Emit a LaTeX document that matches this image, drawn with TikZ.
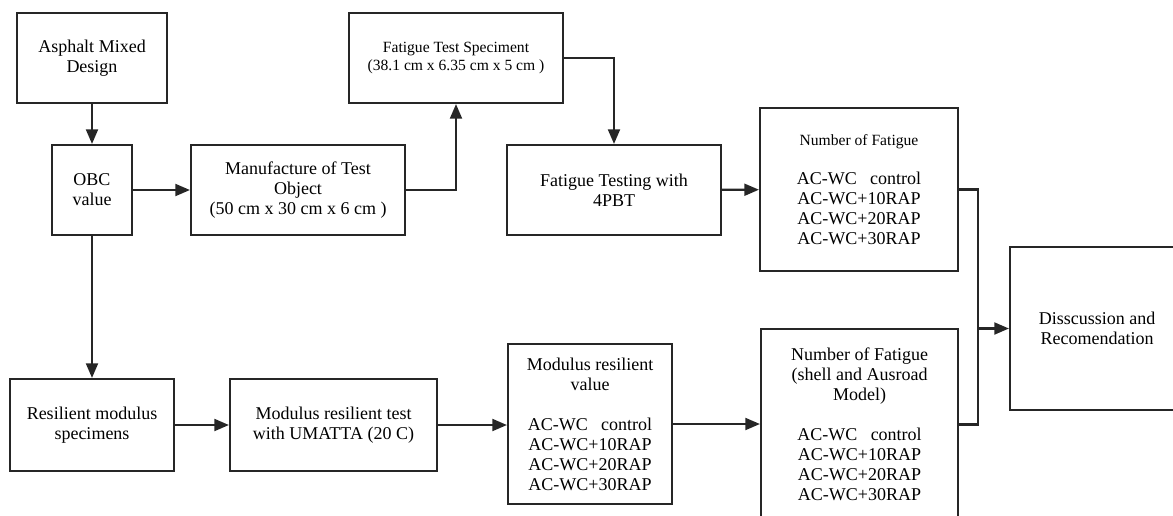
\documentclass[tikz,border=0pt]{standalone}
\usepackage{fontspec}
\setmainfont{Liberation Serif}
\usetikzlibrary{arrows.meta}
\begin{document}
\begin{tikzpicture}[x=0.75pt,y=-0.75pt,
  box/.style={draw=black!85,line width=1.6pt,inner sep=0pt,align=center,
    font=\fontsize{13.5pt}{15pt}\selectfont},
  smallbox/.style={box,font=\fontsize{11.7pt}{13pt}\selectfont},
  arr/.style={draw=black!85,line width=1.6pt,-{Triangle[length=11pt,width=9pt]}},
  ln/.style={draw=black!85,line width=1.6pt}]
\useasboundingbox (0,0) rectangle (1173,515);
\clip (0,0) rectangle (1173,515);
\node[box,minimum width=112.5pt,minimum height=67.5pt] (asphalt) at (92,58) {Asphalt Mixed\\Design};
\node[box,minimum width=60pt,minimum height=67.5pt] (obc) at (92,190) {OBC\\value};
\node[box,minimum width=160.5pt,minimum height=67.5pt] (manuf) at (298,190) {Manufacture of Test\\Object\\(50 cm x 30 cm x 6 cm )};
\node[smallbox,minimum width=160.5pt,minimum height=67.5pt] (spec) at (456,58) {Fatigue Test Speciment\\(38.1 cm x 6.35 cm x 5 cm )};
\node[box,minimum width=160.5pt,minimum height=67.5pt] (ftest) at (614,190) {Fatigue Testing with\\4PBT};
\node[box,minimum width=148.5pt,minimum height=122.25pt] (nf1) at (859,189.5) {{\fontsize{11.7pt}{13pt}\selectfont Number of Fatigue}\\[14pt]AC-WC\ \ \ control\\AC-WC+10RAP\\AC-WC+20RAP\\AC-WC+30RAP};
\node[box,minimum width=130.5pt,minimum height=122.25pt] (disc) at (1097,328.5) {Disscussion and\\Recomendation};
\node[box,minimum width=123pt,minimum height=69pt] (resil) at (92,425) {Resilient modulus\\specimens};
\node[box,minimum width=155.25pt,minimum height=69pt] (mrtest) at (333.5,425) {Modulus resilient test\\with UMATTA (20 C)};
\node[box,minimum width=123pt,minimum height=120pt] (mrval) at (590,424) {Modulus resilient\\value\\[15pt]AC-WC\ \ \ control\\AC-WC+10RAP\\AC-WC+20RAP\\AC-WC+30RAP};
\node[box,minimum width=147.75pt,minimum height=143.25pt] (nf2) at (859.5,424.5) {Number of Fatigue\\(shell and Ausroad\\Model)\\[15pt]AC-WC\ \ \ control\\AC-WC+10RAP\\AC-WC+20RAP\\AC-WC+30RAP};
\coordinate (jt) at (978,189.5);
\coordinate (jb) at (978,424.5);
\coordinate (jm) at (978,328.5);
\draw[arr] (asphalt) -- (obc);
\draw[arr] (obc) -- (manuf);
\draw[arr] (manuf.east) -| (spec.south);
\draw[arr] (spec.east) -| (ftest.north);
\draw[arr] (ftest) -- (nf1);
\draw[arr] (obc) -- (resil);
\draw[arr] (resil) -- (mrtest);
\draw[arr] (mrtest.east) -- (mrval.west |- mrtest.east);
\draw[arr] (mrval) -- (nf2.west |- mrval.east);
\draw[ln] (nf1.east) -- (jt) -- (jb) -- (nf2.east);
\draw[arr] (jm) -- (disc.west);
\end{tikzpicture}
\end{document}
